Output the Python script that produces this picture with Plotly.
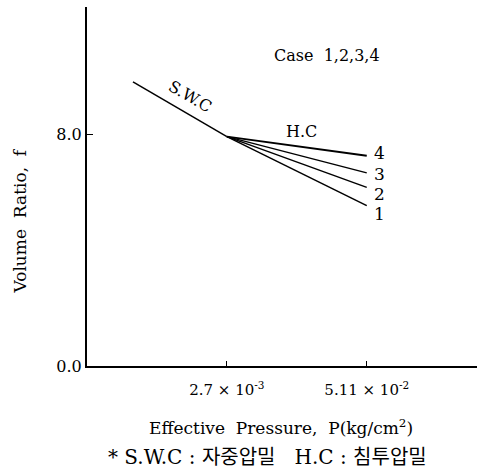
import math
import plotly.graph_objects as go

# Data
swc_x = [3.75e-4, 2.7e-3]
swc_y = [9.80, 7.91]
hc_x = [2.7e-3, 5.11e-2]
hc_cases = ["1", "2", "3", "4"]
hc_end_y = [5.53, 6.16, 6.66, 7.25]
x_tick_vals = [2.7e-3, 5.11e-2]
x_tick_text = ["2.7 × 10<sup>-3</sup>", "5.11 × 10<sup>-2</sup>"]
y_tick_vals = [0.0, 8.0]
y_tick_text = ["0.0", "8.0"]

SERIF = "DejaVu Serif, Liberation Serif, serif"
KR = "Noto Sans CJK KR"

fig = go.Figure()
fig.add_trace(go.Scatter(x=swc_x, y=swc_y, mode="lines",
                         line=dict(color="black", width=1.5), showlegend=False))
widths = [1.5, 1.5, 1.5, 2]
label_shift = {"1": -8, "2": -7, "3": -1, "4": 3}
for name, ye, w in zip(hc_cases, hc_end_y, widths):
    fig.add_trace(go.Scatter(x=hc_x, y=[swc_y[-1], ye], mode="lines",
                             line=dict(color="black", width=w), showlegend=False))
    fig.add_annotation(x=math.log10(hc_x[-1]), y=ye, text=name,
                       xref="x", yref="y", showarrow=False, xanchor="left",
                       xshift=5, yshift=label_shift[name],
                       font=dict(family=SERIF, size=17, color="black"))

fig.add_annotation(x=math.log10(1.25e-3), y=9.3, text="S.W.C", textangle=30,
                   showarrow=False, font=dict(family=SERIF, size=16, color="black"))
fig.add_annotation(x=math.log10(1.3e-2), y=8.07, text="H.C",
                   showarrow=False, font=dict(family=SERIF, size=16, color="black"))
fig.add_annotation(x=math.log10(2.2e-2), y=10.7, text="Case  1,2,3,4",
                   showarrow=False, font=dict(family=SERIF, size=16, color="black"))

fig.add_annotation(xref="paper", yref="paper", x=0.498, y=-0.17,
                   xanchor="center", yanchor="middle",
                   text="Effective  Pressure,  P(kg/cm<sup>2</sup>)", showarrow=False,
                   font=dict(family=SERIF, size=17, color="black"))
fig.add_annotation(xref="paper", yref="paper", x=0.462, y=-0.254,
                   xanchor="center", yanchor="middle", borderpad=0,
                   text="* S.W.C : 자중압밀   H.C : 침투압밀", showarrow=False,
                   font=dict(family=SERIF + ", " + KR, size=20, color="black"))
fig.add_annotation(xref="paper", yref="paper", x=-0.172, y=0.405,
                   xanchor="center", yanchor="middle",
                   text="Volume  Ratio,  f", textangle=-90, showarrow=False,
                   font=dict(family=SERIF, size=17, color="black"))

fig.update_xaxes(type="log", range=[-3.8457, -0.285], tickvals=x_tick_vals,
                 ticktext=x_tick_text, ticks="inside", ticklen=5, tickcolor="black",
                 ticklabelstandoff=9,
                 showline=True, linecolor="black", linewidth=2, showgrid=False,
                 zeroline=False, tickfont=dict(family=SERIF, size=15, color="black"))
fig.update_yaxes(range=[0, 12.38], tickvals=y_tick_vals, ticktext=y_tick_text,
                 ticks="inside", ticklen=6, tickcolor="black", showline=True,
                 linecolor="black", linewidth=2, showgrid=False, zeroline=False,
                 tickfont=dict(family=SERIF, size=16, color="black"))

fig.update_layout(width=477, height=471, margin=dict(l=87, r=0, t=7, b=105),
                  plot_bgcolor="white", paper_bgcolor="white")
fig.write_html("out.html")
